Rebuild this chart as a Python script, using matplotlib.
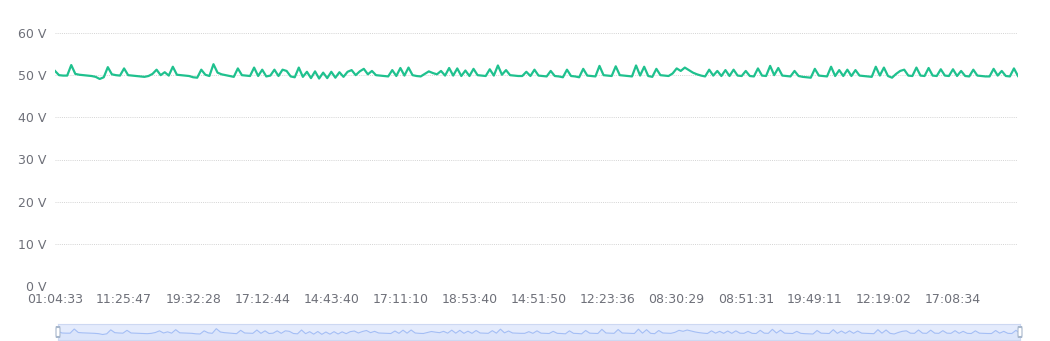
import matplotlib
matplotlib.use('Agg')
import matplotlib.pyplot as plt
from matplotlib.patches import FancyBboxPatch
import numpy as np

# voltage readings (V), one per sample
voltage = [
    51.0, 50.0, 49.9, 49.9, 52.4, 50.3, 50.1, 50.0, 49.9, 49.8,
    49.6, 49.1, 49.5, 51.9, 50.2, 50.0, 49.9, 51.6, 50.0, 49.9,
    49.8, 49.7, 49.6, 49.8, 50.3, 51.3, 50.0, 50.7, 49.9, 52.0,
    50.1, 50.0, 49.9, 49.8, 49.5, 49.4, 51.3, 50.1, 49.8, 52.6,
    50.6, 50.2, 50.0, 49.8, 49.6, 51.6, 50.0, 49.9, 49.8, 51.8,
    49.8, 51.3, 49.7, 49.9, 51.3, 49.8, 51.3, 51.0, 49.7, 49.5,
    51.8, 49.6, 50.8, 49.3, 50.9, 49.2, 50.6, 49.3, 50.8, 49.4,
    50.7, 49.6, 50.8, 51.2, 50.0, 50.9, 51.5, 50.2, 51.0, 50.0,
    49.9, 49.8, 49.7, 51.2, 49.8, 51.7, 49.9, 51.8, 50.0, 49.8,
    49.7, 50.3, 50.9, 50.5, 50.2, 51.0, 49.9, 51.7, 49.9, 51.6,
    49.8, 51.1, 49.8, 51.5, 50.0, 49.9, 49.8, 51.4, 49.9, 52.3,
    50.1, 51.2, 50.0, 49.9, 49.8, 49.8, 50.8, 49.8, 51.3, 49.9,
    49.8, 49.7, 51.0, 49.8, 49.7, 49.5, 51.3, 49.8, 49.7, 49.5,
    51.5, 49.9, 49.8, 49.7, 52.2, 50.0, 49.9, 49.8, 52.1, 50.0,
    49.9, 49.8, 49.7, 52.3, 49.9, 52.0, 49.8, 49.6, 51.5, 50.0,
    49.9, 49.8, 50.4, 51.6, 51.0, 51.8, 51.2, 50.6, 50.2, 49.9,
    49.7, 51.3, 49.9, 51.0, 49.8, 51.2, 49.8, 51.3, 49.9, 49.8,
    51.0, 49.8, 49.7, 51.6, 49.9, 49.8, 52.2, 50.0, 51.7, 49.9,
    49.8, 49.7, 51.0, 49.8, 49.6, 49.5, 49.4, 51.5, 49.9, 49.8,
    49.7, 52.0, 49.8, 51.2, 49.8, 51.3, 49.8, 51.2, 49.9, 49.8,
    49.7, 49.6, 52.0, 49.9, 51.8, 49.8, 49.4, 50.3, 51.0, 51.3,
    49.9, 49.8, 51.8, 49.9, 49.8, 51.7, 49.9, 49.8, 51.4, 49.9,
    49.8, 51.4, 49.8, 51.0, 49.8, 49.7, 51.3, 49.9, 49.8, 49.7,
    49.7, 51.5, 49.9, 51.0, 49.8, 49.7, 51.6, 49.8,
]

# visible time labels on the category axis (every 17th sample)
time_labels = ['01:04:33', '11:25:47', '19:32:28', '17:12:44', '14:43:40',
               '17:11:10', '18:53:40', '14:51:50', '12:23:36', '08:30:29',
               '08:51:31', '19:49:11', '12:19:02', '17:08:34']
label_step = 17

y_ticks = [0, 10, 20, 30, 40, 50, 60]

W, H = 1050, 341
fig = plt.figure(figsize=(W / 100, H / 100), dpi=100)
fig.patch.set_facecolor('white')

x = np.arange(len(voltage))
text_color = '#6e7079'

# main chart
ax = fig.add_axes([55 / W, 1 - 286 / H, 963 / W, 253 / H])
ax.plot(x, voltage, color='#1fc18e', linewidth=1.6, solid_joinstyle='round')
ax.set_xlim(0, len(voltage) - 1)
ax.set_ylim(0, 60)
ax.set_yticks(y_ticks)
ax.set_yticklabels([f'{v} V' for v in y_ticks])
ax.set_xticks(np.arange(len(time_labels)) * label_step)
ax.set_xticklabels(time_labels)
for v in y_ticks:
    ax.axhline(v, color='#d4d4d4', linewidth=0.7, linestyle=(0, (1, 1.2)), zorder=0)
for s in ax.spines.values():
    s.set_visible(False)
ax.tick_params(axis='both', length=0, labelsize=9, colors=text_color)
ax.tick_params(axis='y', pad=6)
ax.tick_params(axis='x', pad=5)

# data zoom slider
sx0, sx1, sy0, sy1 = 58, 1020, 324, 340
sl = fig.add_axes([sx0 / W, 1 - sy1 / H, (sx1 - sx0) / W, (sy1 - sy0) / H])
sl.set_xlim(0, len(voltage) - 1)
sl.set_ylim(45.8, 55.4)
sl.set_facecolor('#e4ebfc')
sl.fill_between(x, 45.8, voltage, color='#dbe5fb', linewidth=0)
sl.plot(x, voltage, color='#a4bef5', linewidth=0.8)
sl.set_xticks([])
sl.set_yticks([])
for s in sl.spines.values():
    s.set_color('#cdd8f2')
    s.set_linewidth(0.8)

# handles at both ends
for hx in (sx0, sx1):
    fig.patches.append(FancyBboxPatch(((hx - 2) / W, 1 - 337 / H), 4 / W, 10 / H,
                                      boxstyle='round,pad=0,rounding_size=0.004',
                                      transform=fig.transFigure, facecolor='white',
                                      edgecolor='#a7b7cc', linewidth=0.8, zorder=5))

fig.savefig('out.png', dpi=100)
